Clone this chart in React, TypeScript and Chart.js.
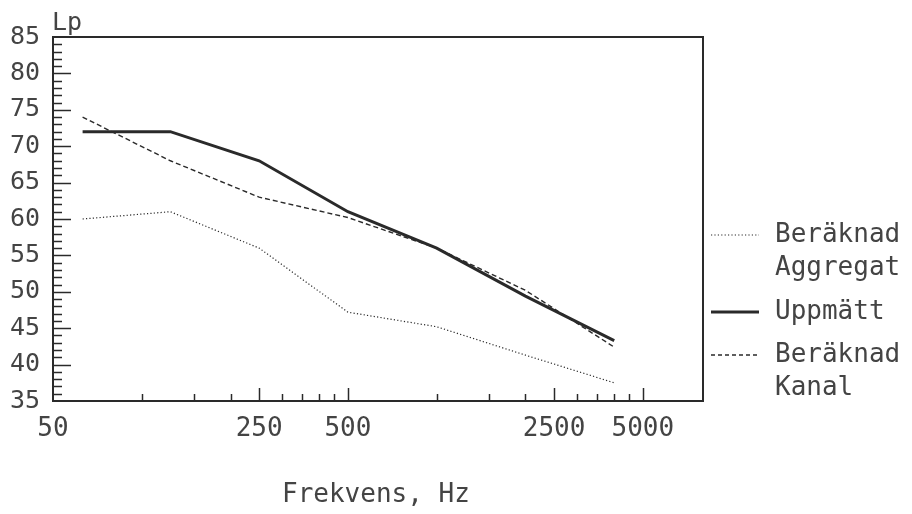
import React, { useEffect, useRef } from "react";
import { Chart, registerables } from "chart.js";

Chart.register(...registerables);

const frequencies = [63, 125, 250, 500, 1000, 2000, 4000];
const uppmatt = [72, 72, 68, 61, 56, 49.4, 43.3];
const beraknadKanal = [74, 68, 63, 60.2, 56, 50.2, 42.4];
const beraknadAggregat = [60, 61, 56, 47.2, 45.2, 41.3, 37.5];

const xLabelValues = [50, 250, 500, 2500, 5000];
const xMajorTickValues = [250, 500, 2500, 5000];
const xMinorTickValues = [100, 150, 200, 300, 350, 400, 450, 1000, 1500, 2000, 3000, 3500, 4000, 4500];
const yLabelValues = [35, 40, 45, 50, 55, 60, 65, 70, 75, 80, 85];

const FONT = "'DejaVu Sans Mono', monospace";
const INK = "#2a2a2a";
const TEXT = "#444444";

const legendItems = [
  { lines: ["Beräknad", "Aggregat"], dash: [1.2, 2.2], width: 1.2 },
  { lines: ["Uppmätt"], dash: [], width: 3 },
  { lines: ["Beräknad", "Kanal"], dash: [4, 3], width: 1.4 },
];

const decorPlugin = {
  id: "decor",
  afterDraw(chart: any) {
    const { ctx, chartArea } = chart;
    const xs = chart.scales.x;
    const ys = chart.scales.y;
    const { left, right, top, bottom } = chartArea;
    ctx.save();
    // frame
    ctx.strokeStyle = INK;
    ctx.lineWidth = 2;
    ctx.setLineDash([]);
    ctx.strokeRect(left, top, right - left, bottom - top);
    // y ticks (inward)
    ctx.lineWidth = 1.5;
    for (let v = 36; v < 85; v++) {
      const y = Math.round(ys.getPixelForValue(v)) + 0.5;
      const len = v % 5 === 0 ? 18 : 9;
      ctx.beginPath();
      ctx.moveTo(left, y);
      ctx.lineTo(left + len, y);
      ctx.stroke();
    }
    // x ticks (inward)
    const drawX = (v: number, len: number) => {
      const x = Math.round(xs.getPixelForValue(v)) + 0.5;
      ctx.beginPath();
      ctx.moveTo(x, bottom);
      ctx.lineTo(x, bottom - len);
      ctx.stroke();
    };
    xMajorTickValues.forEach((v) => drawX(v, 13));
    xMinorTickValues.forEach((v) => drawX(v, 7));

    // titles
    ctx.fillStyle = TEXT;
    ctx.font = `25px ${FONT}`;
    ctx.textAlign = "left";
    ctx.textBaseline = "alphabetic";
    ctx.fillText("Lp", left - 1, 30);
    ctx.font = `26px ${FONT}`;
    ctx.fillText("Frekvens, Hz", 282, 502);

    // legend
    const rows = [
      [235, 268],
      [312],
      [355, 388],
    ];
    ctx.textAlign = "left";
    ctx.textBaseline = "middle";
    legendItems.forEach((item, i) => {
      const ly = rows[i][0];
      ctx.beginPath();
      ctx.setLineDash(item.dash);
      ctx.lineWidth = item.width;
      ctx.strokeStyle = INK;
      ctx.moveTo(right + 8, ly);
      ctx.lineTo(right + 56, ly);
      ctx.stroke();
      ctx.setLineDash([]);
      item.lines.forEach((t, j) => {
        ctx.fillText(t, right + 72, rows[i][j]);
      });
    });
    ctx.restore();
  },
};

export default function App() {
  const canvasRef = useRef<HTMLCanvasElement | null>(null);

  useEffect(() => {
    if (!canvasRef.current) return;
    const toPoints = (vals: number[]) => frequencies.map((f, i) => ({ x: f, y: vals[i] }));
    const chart = new Chart(canvasRef.current, {
      type: "line",
      data: {
        datasets: [
          {
            label: "Beräknad Aggregat",
            data: toPoints(beraknadAggregat),
            borderColor: INK,
            borderWidth: 1.2,
            borderDash: [1.2, 2.2],
            pointRadius: 0,
            tension: 0,
          },
          {
            label: "Uppmätt",
            data: toPoints(uppmatt),
            borderColor: INK,
            borderWidth: 3,
            pointRadius: 0,
            tension: 0,
          },
          {
            label: "Beräknad Kanal",
            data: toPoints(beraknadKanal),
            borderColor: INK,
            borderWidth: 1.4,
            borderDash: [5, 3],
            pointRadius: 0,
            tension: 0,
          },
        ],
      },
      options: {
        animation: false,
        responsive: false,
        layout: { padding: { left: 0, top: 37, right: 209, bottom: 0 } },
        plugins: { legend: { display: false }, tooltip: { enabled: false } },
        scales: {
          x: {
            type: "logarithmic",
            min: 50,
            max: 8000,
            grid: { display: false, drawTicks: false },
            border: { display: false },
            afterBuildTicks: (scale: any) => {
              scale.ticks = xLabelValues.map((v) => ({ value: v }));
            },
            afterFit: (scale: any) => {
              scale.height = 113;
            },
            ticks: {
              autoSkip: false,
              maxRotation: 0,
              padding: 13,
              color: TEXT,
              font: { family: FONT, size: 26 },
              callback: (v: any) => String(v),
            },
          },
          y: {
            type: "linear",
            min: 35,
            max: 85,
            grid: { display: false, drawTicks: false },
            border: { display: false },
            afterBuildTicks: (scale: any) => {
              scale.ticks = yLabelValues.map((v) => ({ value: v }));
            },
            afterFit: (scale: any) => {
              scale.width = 53;
            },
            ticks: {
              padding: 13,
              color: TEXT,
              font: { family: FONT, size: 25 },
            },
          },
        },
      },
      plugins: [decorPlugin],
    } as any);
    return () => chart.destroy();
  }, []);

  return (
    <div style={{ position: "absolute", left: 0, top: 0, width: 912, height: 514, background: "#fff" }}>
      <canvas ref={canvasRef} width={912} height={514} style={{ display: "block" }} />
    </div>
  );
}
